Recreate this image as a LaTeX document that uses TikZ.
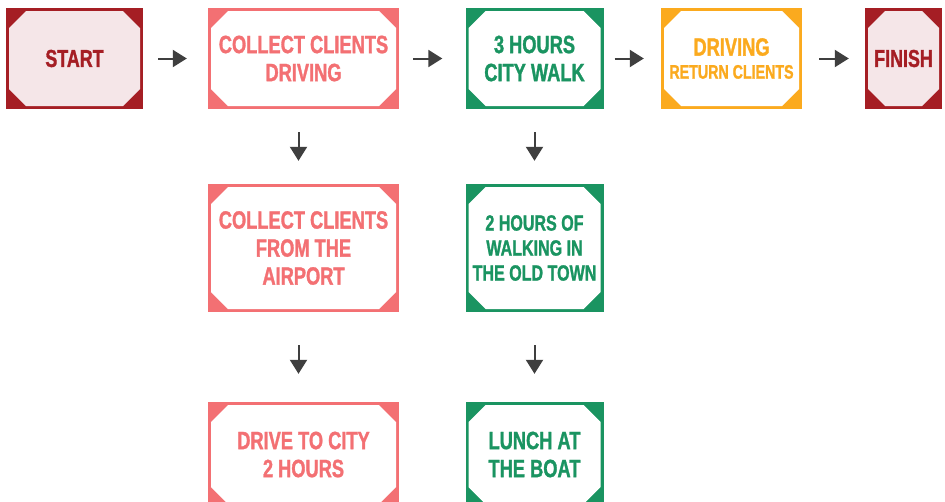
\documentclass[tikz,border=0pt]{standalone}
\usepackage{fontspec}
\setmainfont{Liberation Sans}[FakeStretch=0.73, BoldFeatures={FakeBold=1.2}]
\usetikzlibrary{arrows.meta}

\definecolor{deepred}{HTML}{A51E24}
\definecolor{blush}{HTML}{F5E6E8}
\definecolor{salmon}{HTML}{F37073}
\definecolor{forest}{HTML}{1A9461}
\definecolor{amber}{HTML}{FBAA1E}
\definecolor{arrowgray}{HTML}{3F3F3F}

\tikzset{
  % coloured frame with an octagonal panel inside, leaving filled corner wedges
  panel/.style n args={3}{
    rectangle, inner sep=0pt, fill=#1, text=#3, align=center,
    font=\bfseries\fontsize{25}{28}\selectfont,
    path picture={
      \fill[#2]
        ([shift={(20,3)}]path picture bounding box.south west)
        -- ([shift={(-20,3)}]path picture bounding box.south east)
        -- ([shift={(-3,20)}]path picture bounding box.south east)
        -- ([shift={(-3,-20)}]path picture bounding box.north east)
        -- ([shift={(-20,-3)}]path picture bounding box.north east)
        -- ([shift={(20,-3)}]path picture bounding box.north west)
        -- ([shift={(3,-20)}]path picture bounding box.north west)
        -- ([shift={(3,20)}]path picture bounding box.south west)
        -- cycle;
    }
  },
  endbox/.style={panel={deepred}{blush}{deepred}, font=\bfseries\fontsize{24.5}{28}\selectfont},
  pinkbox/.style={panel={salmon}{white}{salmon}},
  greenbox/.style={panel={forest}{white}{forest}},
  amberbox/.style={panel={amber}{white}{amber}},
  flow/.style={draw=arrowgray, line width=2pt,
    -{Triangle[length=14pt,width=17pt]}},
}

\begin{document}
\begin{tikzpicture}[x=1pt,y=1pt]
  \clip (0,0) rectangle (945,-501);
  \fill[white] (0,0) rectangle (945,-501);

  % top row
  \node[endbox, minimum width=137, minimum height=101] (start) at (74.5,-58.5) {START};
  \node[pinkbox, minimum width=191, minimum height=101] (collect) at (303.5,-58.5)
    {COLLECT CLIENTS\\DRIVING};
  \node[greenbox, minimum width=138, minimum height=101] (walk) at (534.5,-58.5)
    {3 HOURS\\CITY WALK};
  \node[amberbox, minimum width=141, minimum height=101] (return) at (731.5,-58.5)
    {DRIVING\\[-5pt]{\fontsize{19.5}{23}\selectfont RETURN CLIENTS}};
  \node[endbox, minimum width=77, minimum height=101] (finish) at (903.5,-58.5) {FINISH};

  % left column
  \node[pinkbox, minimum width=191, minimum height=128] (airport) at (303.5,-248)
    {COLLECT CLIENTS\\FROM THE\\AIRPORT};
  \node[pinkbox, minimum width=191, minimum height=105] (drive) at (303.5,-454.5)
    {DRIVE TO CITY\\2 HOURS};

  % right column
  \node[greenbox, minimum width=138, minimum height=128, font=\bfseries\fontsize{22}{25}\selectfont]
    (oldtown) at (534.5,-248) {2 HOURS OF\\WALKING IN\\THE OLD TOWN};
  \node[greenbox, minimum width=138, minimum height=105] (lunch) at (534.5,-454.5)
    {LUNCH AT\\THE BOAT};

  % connectors
  \draw[flow, shorten <=15pt, shorten >=21pt] (start) -- (collect);
  \draw[flow, shorten <=14pt, shorten >=23pt] (collect) -- (walk);
  \draw[flow, shorten <=11pt, shorten >=17pt] (walk) -- (return);
  \draw[flow, shorten <=17pt, shorten >=16pt] (return) -- (finish);

  \draw[flow, shorten <=23pt, shorten >=23pt]
    ([xshift=-5pt]collect.south) -- ([xshift=-5pt]airport.north);
  \draw[flow, shorten <=33pt, shorten >=28pt]
    ([xshift=-5pt]airport.south) -- ([xshift=-5pt]drive.north);
  \draw[flow, shorten <=23pt, shorten >=23pt] (walk) -- (oldtown);
  \draw[flow, shorten <=33pt, shorten >=28pt] (oldtown) -- (lunch);
\end{tikzpicture}
\end{document}
